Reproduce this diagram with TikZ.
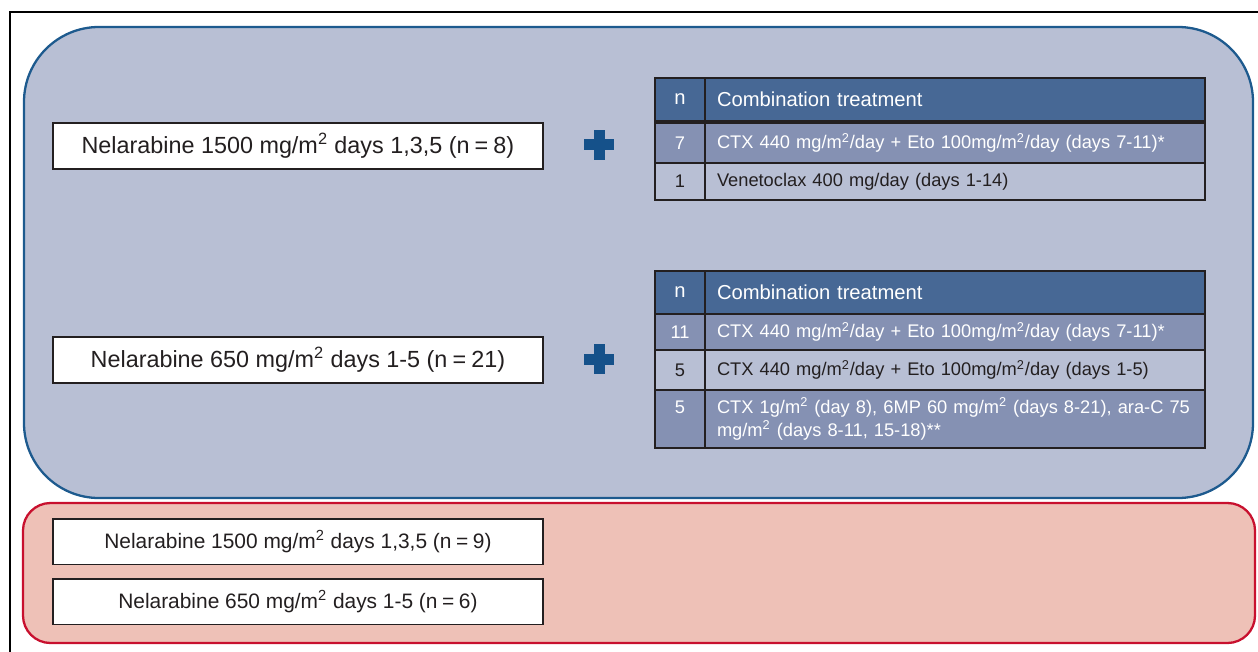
\documentclass[tikz,border=0pt]{standalone}
\usepackage{fontspec}
\setmainfont{Liberation Sans}
\usetikzlibrary{positioning}

\definecolor{bluebg}{HTML}{B8BFD4}
\definecolor{blueline}{HTML}{1D5A8E}
\definecolor{redbg}{HTML}{EEC1B7}
\definecolor{redline}{HTML}{C8102E}
\definecolor{hdblue}{HTML}{476895}
\definecolor{midblue}{HTML}{8591B3}
\definecolor{plusblue}{HTML}{15518A}
\definecolor{txtdark}{HTML}{231F20}

\newcommand{\mtwo}{m\textsuperscript{2}}
\newcommand{\ncount}[1]{(n\hspace{0.22em}=\hspace{0.22em}#1)}

\begin{document}
\begin{tikzpicture}[x=0.02cm, y=-0.02cm,
  every node/.style={inner sep=0pt, outer sep=0pt, text=txtdark},
  dosebox/.style={draw=txtdark, line width=1.1pt, fill=white, anchor=north west,
    minimum width=9.8cm, minimum height=#1},
  cell/.style={draw=txtdark, line width=1.1pt, anchor=north west, minimum height=#1},
  ncell/.style={minimum width=1cm, align=center},
  txtcell/.style={text width=9.52cm, inner xsep=0.24cm, align=left},
  bigtxt/.style={font=\fontsize{13.3}{16}\selectfont},
  midtxt/.style={font=\fontsize{11.9}{14}\selectfont},
  hdtxt/.style={font=\fontsize{11.5}{14}\selectfont},
  rowtxt/.style={font=\fontsize{10.4}{13}\selectfont}]
  \useasboundingbox (0,0) rectangle (1258,652);

  % Frame and arm panels
  \draw[line width=0.7pt] (10,652) -- (10,12) -- (1258,12);
  \draw[blueline, fill=bluebg, line width=1.3pt, rounded corners=1.5cm] (24,27) rectangle (1253,498);
  \draw[redline, fill=redbg, line width=1.3pt, rounded corners=0.55cm] (23,503) rectangle (1255,643);

  % Nelarabine + combination
  \foreach \i/\y/\txt in {1/123/{Nelarabine 1500 mg/\mtwo\ days 1,3,5 \ncount{8}},
                          2/337/{Nelarabine 650 mg/\mtwo\ days 1-5 \ncount{21}}} {
    \node[dosebox=0.92cm, bigtxt] (combo\i) at (53,\y) {\txt};
  }
  \foreach \i/\y in {1/145, 2/359} {
    \coordinate (plus\i) at (599,\y);
    \fill[plusblue] ([shift={(-15,-5.5)}]plus\i) rectangle ([shift={(15,5.5)}]plus\i);
    \fill[plusblue] ([shift={(-5.5,-15)}]plus\i) rectangle ([shift={(5.5,15)}]plus\i);
  }

  % Table headers
  \foreach \t/\y in {1/78, 2/271} {
    \node[cell=0.86cm, ncell, fill=hdblue, text=white, hdtxt] (t\t-hn) at (655,\y) {n};
    \node[cell=0.86cm, txtcell, fill=hdblue, text=white, hdtxt] (t\t-ht) at (705,\y) {Combination treatment};
  }

  % Table rows
  \foreach \r/\y/\h/\bg/\fg/\n/\txt in {
      t1-a/123/0.8cm/midblue/white/7/{CTX 440 mg/\mtwo/day + Eto 100mg/\mtwo/day (days 7-11)*},
      t1-b/163/0.74cm/bluebg/txtdark/1/{Venetoclax 400 mg/day (days 1-14)},
      t2-a/314/0.72cm/midblue/white/11/{CTX 440 mg/\mtwo/day + Eto 100mg/\mtwo/day (days 7-11)*},
      t2-b/350/0.8cm/bluebg/txtdark/5/{CTX 440 mg/\mtwo/day + Eto 100mg/\mtwo/day (days 1-5)},
      t2-c/390/1.16cm/midblue/white/{5\\~}/{CTX 1g/\mtwo\ (day 8), 6MP 60 mg/\mtwo\ (days 8-21), ara-C 75\\mg/\mtwo\ (days 8-11, 15-18)**}} {
    \node[cell=\h, ncell, fill=\bg, text=\fg, rowtxt] (\r-n) at (655,\y) {\n};
    \node[cell=\h, txtcell, fill=\bg, text=\fg, rowtxt] (\r-t) at (705,\y) {\txt};
  }

  % Nelarabine alone
  \foreach \i/\y/\txt in {1/519/{Nelarabine 1500 mg/\mtwo\ days 1,3,5 \ncount{9}},
                          2/579/{Nelarabine 650 mg/\mtwo\ days 1-5 \ncount{6}}} {
    \node[dosebox=0.91cm, midtxt] (alone\i) at (53,\y) {\txt};
  }
\end{tikzpicture}
\end{document}
